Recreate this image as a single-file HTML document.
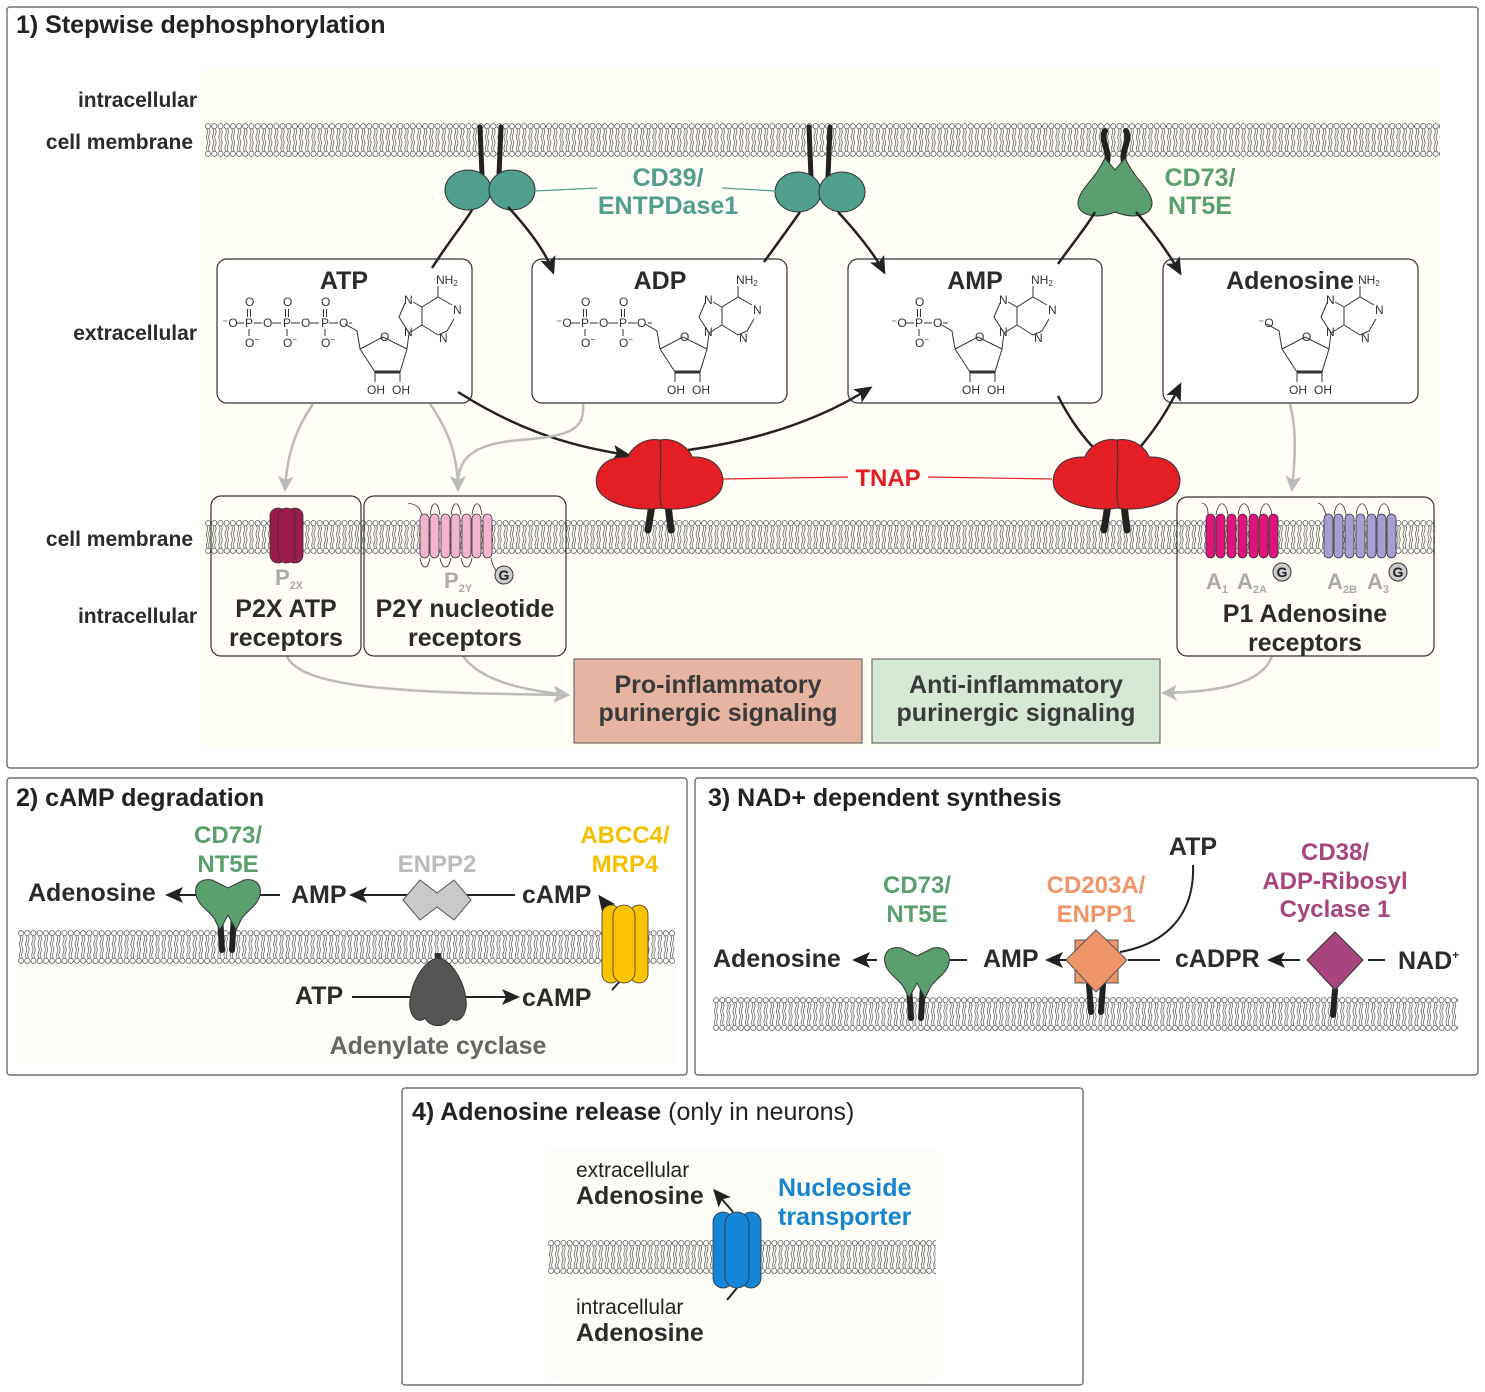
<!DOCTYPE html>
<html><head><meta charset="utf-8"><style>
html,body{margin:0;padding:0;background:#fff}
svg{display:block}
text{font-family:"Liberation Sans",sans-serif}
.b{font-weight:bold}
.t{font-size:25px;font-weight:bold;fill:#2b2b2b}
.s{font-size:12px;fill:#333}
</style></head><body>
<svg width="1485" height="1392" viewBox="0 0 1485 1392" xmlns="http://www.w3.org/2000/svg">
<defs>
<pattern id="mem" patternUnits="userSpaceOnUse" width="6.2" height="34">
<path d="M2,6 q1.3,2.7 0,5.5 q-1.3,2.7 0,5.5 M4.2,6 q1.3,2.7 0,5.5 q-1.3,2.7 0,5.5 M2,17 q1.3,2.7 0,5.5 q-1.3,2.7 0,5.5 M4.2,17 q1.3,2.7 0,5.5 q-1.3,2.7 0,5.5" fill="none" stroke="#333" stroke-width="0.6"/>
<circle cx="3.1" cy="3.2" r="2.6" fill="#fff" stroke="#333" stroke-width="0.6"/>
<circle cx="3.1" cy="30.8" r="2.6" fill="#fff" stroke="#333" stroke-width="0.6"/>
</pattern>
<marker id="ahb" markerWidth="18" markerHeight="16" refX="15" refY="8" orient="auto" markerUnits="userSpaceOnUse" viewBox="0 0 18 16"><path d="M0,0 L18,8 L0,16 L4,8Z" fill="#222"/></marker>
<marker id="ahg" markerWidth="16" markerHeight="16" refX="14" refY="8" orient="auto" markerUnits="userSpaceOnUse" viewBox="0 0 16 16"><path d="M0,0 L16,8 L0,16 L4,8Z" fill="#bbb"/></marker>
<g id="nuc" fill="none" stroke="#333" stroke-width="1">
<path d="M143,90 L166,78 L190,90"/><path d="M143,90 L158,113" /><path d="M190,90 L183,113"/>
<path d="M158,113 L183,113" stroke-width="3"/>
<path d="M158,113 L158,123 M183,113 L183,123 M143,90 L140,72 L128,65"/>
<path d="M190,90 L192,74 M192,74 L182,58 L188,44 M192,74 L205,66 L205,48 L196,43 M205,48 L221,38 L235,46 M237,60 L230,72 L221,76 M221,76 L205,66 M221,38 L221,27"/>
<text x="163" y="82" class="s" stroke="none" fill="#333">O</text>
<text x="150" y="135" class="s" stroke="none" fill="#333">OH</text>
<text x="175" y="135" class="s" stroke="none" fill="#333">OH</text>
<text x="187" y="45" class="s" stroke="none" fill="#333">N</text>
<text x="187" y="77" class="s" stroke="none" fill="#333">N</text>
<text x="236" y="55" class="s" stroke="none" fill="#333">N</text>
<text x="222" y="83" class="s" stroke="none" fill="#333">N</text>
<text x="219" y="25" class="s" stroke="none" fill="#333">NH<tspan font-size="8" dy="2">2</tspan></text>
</g>
<g id="pO">
<text x="-4" y="-17" class="s">O</text><path d="M-1.5,-14 V-6 M1.5,-14 V-6 M0,6 V13" stroke="#333"/>
<text x="-4" y="4" class="s">P</text><text x="-4" y="24" class="s">O<tspan font-size="8" dy="-5">−</tspan></text>
</g>
<g id="capsP"><rect x="0" y="0" width="9" height="44" rx="4.5" stroke="#333" stroke-width="0.8"/></g>
</defs>

<rect x="7" y="7" width="1471" height="761" rx="3" fill="#fff" stroke="#555" stroke-width="1.2"/>
<rect x="200" y="68" width="1240" height="680" fill="#fffdf6"/>
<rect x="7" y="778" width="680" height="297" rx="3" fill="#fff" stroke="#555" stroke-width="1.2"/>
<rect x="18" y="962" width="657" height="100" fill="#fdfcf7"/>
<rect x="695" y="778" width="783" height="297" rx="3" fill="#fff" stroke="#555" stroke-width="1.2"/>
<rect x="402" y="1088" width="681" height="297" rx="3" fill="#fff" stroke="#555" stroke-width="1.2"/>
<rect x="548" y="1150" width="388" height="230" fill="#fdfcf7"/>

<g transform="translate(205,123)"><rect width="1235" height="34" fill="url(#mem)"/></g>
<g transform="translate(205,520)"><rect width="1230" height="34" fill="url(#mem)"/></g>
<g transform="translate(18,930)"><rect width="657" height="34" fill="url(#mem)"/></g>
<g transform="translate(713,997)"><rect width="745" height="34" fill="url(#mem)"/></g>
<g transform="translate(548,1240)"><rect width="388" height="34" fill="url(#mem)"/></g>

<text x="16" y="33" font-size="25" class="b" fill="#222">1) Stepwise dephosphorylation</text>
<g font-size="21" font-weight="bold" fill="#2b2b2b" text-anchor="end">
<text x="197" y="107">intracellular</text>
<text x="193" y="149">cell membrane</text>
<text x="197" y="340">extracellular</text>
<text x="193" y="546">cell membrane</text>
<text x="197" y="623">intracellular</text>
</g>

<g fill="#fff" stroke="#333" stroke-width="1.2">
<rect x="217" y="259" width="255" height="144" rx="10"/>
<rect x="532" y="259" width="255" height="144" rx="10"/>
<rect x="848" y="259" width="254" height="144" rx="10"/>
<rect x="1163" y="259" width="255" height="144" rx="10"/>
</g>
<text x="344" y="289" class="t" text-anchor="middle">ATP</text>
<text x="660" y="289" class="t" text-anchor="middle">ADP</text>
<text x="975" y="289" class="t" text-anchor="middle">AMP</text>
<text x="1290" y="289" class="t" text-anchor="middle">Adenosine</text>
<use href="#nuc" transform="translate(217,259)"/>
<use href="#nuc" transform="translate(517,259)"/>
<use href="#nuc" transform="translate(812,259)"/>
<use href="#nuc" transform="translate(1139,259)"/>
<g fill="#333">
<text x="222" y="327" class="s">⁻O</text><path d="M236,323H244 M254,323H262 M272,323H281 M291,323H300 M310,323H319 M329,323H338 M349,323H352" stroke="#333"/>
<use href="#pO" transform="translate(249,323)"/><text x="263" y="327" class="s">O</text>
<use href="#pO" transform="translate(287,323)"/><text x="301" y="327" class="s">O</text>
<use href="#pO" transform="translate(325,323)"/><text x="339" y="327" class="s">O</text>
<text x="556" y="327" class="s">⁻O</text><path d="M570,323H580 M590,323H598 M608,323H618 M628,323H637 M648,323H652" stroke="#333"/>
<use href="#pO" transform="translate(585,323)"/><text x="599" y="327" class="s">O</text>
<use href="#pO" transform="translate(623,323)"/><text x="637" y="327" class="s">O</text>
<text x="891" y="327" class="s">⁻O</text><path d="M905,323H914 M924,323H932 M943,323H948" stroke="#333"/>
<use href="#pO" transform="translate(919,323)"/><text x="933" y="327" class="s">O</text>
<text x="1258" y="327" class="s">⁻O</text>
</g>

<g stroke="#222" stroke-width="5" stroke-linecap="round">
<path d="M480,127 L482,175 M501,127 L499,175 M809,127 L811,177 M830,127 L828,177"/>
</g>
<g fill="#4f9e8e" stroke="#333" stroke-width="1">
<ellipse cx="468" cy="190" rx="23" ry="20"/><ellipse cx="512" cy="190" rx="23" ry="20"/>
<ellipse cx="798" cy="192" rx="23" ry="20"/><ellipse cx="842" cy="192" rx="23" ry="20"/>
</g>
<path d="M535,191 L597,188 M722,188 L776,191" stroke="#4f9e8e" stroke-width="1.2"/>
<g font-size="25" font-weight="bold" fill="#4f9e8e" text-anchor="middle">
<text x="668" y="186">CD39/</text><text x="668" y="214">ENTPDase1</text>
</g>
<g stroke="#222" stroke-width="6" stroke-linecap="round" fill="none">
<path d="M1105,131 C1100,140 1110,150 1107,162 M1126,131 C1131,140 1121,150 1124,162"/>
</g>
<path d="M1105,158 L1115,170 L1125,158 C1135,180 1150,188 1152,202 C1153,215 1135,220 1115,212 C1095,220 1077,215 1078,202 C1080,188 1095,180 1105,158Z" fill="#5aa06f" stroke="#333"/>
<g font-size="25" font-weight="bold" fill="#5aa06f" text-anchor="middle">
<text x="1200" y="186">CD73/</text><text x="1200" y="214">NT5E</text>
</g>

<g fill="none" stroke="#222" stroke-width="2.5">
<path d="M432,268 C450,240 465,222 472,210"/>
<path d="M508,207 C525,225 545,250 553,272" marker-end="url(#ahb)"/>
<path d="M764,262 C780,240 793,222 800,212"/>
<path d="M838,212 C855,230 875,255 884,272" marker-end="url(#ahb)"/>
<path d="M1058,264 C1075,240 1088,225 1095,212"/>
<path d="M1136,212 C1152,230 1170,255 1180,273" marker-end="url(#ahb)"/>
<path d="M458,392 C510,425 560,445 628,455" marker-end="url(#ahb)"/>
<path d="M688,450 C760,440 820,420 870,388" marker-end="url(#ahb)"/>
<path d="M1058,396 C1070,420 1085,440 1098,452"/>
<path d="M1136,452 C1155,430 1168,410 1180,385" marker-end="url(#ahb)"/>
</g>

<g stroke="#222" stroke-width="7" stroke-linecap="round" fill="none">
<path d="M652,505 L648,530 M668,505 L671,530 M1108,505 L1104,530 M1124,505 L1127,530"/>
</g>
<g stroke="#333" stroke-width="1" fill="#e31e24">
<path d="M660,440 C642,437 630,450 628,457 C600,456 594,475 597,487 C603,505 640,512 660,508 C680,512 717,505 722,487 C726,475 718,456 692,457 C690,450 678,437 660,440Z"/>
<path d="M1117,440 C1099,437 1087,450 1085,457 C1057,456 1051,475 1054,487 C1060,505 1097,512 1117,508 C1137,512 1174,505 1179,487 C1183,475 1175,456 1149,457 C1147,450 1135,437 1117,440Z"/>
</g>
<path d="M660,440 C663,470 657,490 662,508 M1117,440 C1120,470 1114,490 1119,508" stroke="#333" fill="none"/>
<path d="M723,479 L848,477 M928,477 L1052,479" stroke="#e31e24" stroke-width="1.2"/>
<text x="888" y="486" font-size="24" font-weight="bold" fill="#e31e24" text-anchor="middle">TNAP</text>

<g fill="none" stroke="#bbb" stroke-width="2.5">
<path d="M313,404 C295,430 287,455 285,490" marker-end="url(#ahg)"/>
<path d="M430,404 C448,430 458,455 458,490" marker-end="url(#ahg)"/>
<path d="M583,404 C585,430 570,436 520,440 C470,444 460,460 458,480"/>
<path d="M1290,404 C1297,430 1295,460 1292,490" marker-end="url(#ahg)"/>
<path d="M287,656 C300,690 420,693 568,695" marker-end="url(#ahg)"/>
<path d="M463,656 C480,680 520,690 568,695" marker-end="url(#ahg)"/>
<path d="M1272,656 C1262,685 1215,692 1163,693" marker-end="url(#ahg)"/>
</g>

<g fill="none" stroke="#333" stroke-width="1.2">
<rect x="211" y="496" width="150" height="160" rx="10"/>
<rect x="364" y="496" width="202" height="160" rx="10"/>
<rect x="1177" y="497" width="257" height="159" rx="10"/>
</g>
<g fill="#9b1b4e" stroke="#333" stroke-width="0.8">
<rect x="270" y="508" width="16" height="55" rx="8"/><rect x="287" y="508" width="16" height="55" rx="8"/>
<rect x="278" y="508" width="17" height="55" rx="8.5"/>
</g>
<text x="275" y="585" font-size="22" font-weight="bold" fill="#aaa">P<tspan font-size="11" dy="4">2X</tspan></text>
<text x="286" y="617" class="t" text-anchor="middle">P2X ATP</text>
<text x="286" y="646" class="t" text-anchor="middle">receptors</text>
<path d="M408,503 C420,505 420,510 422,515 M430,515 C432,500 438,500 440,515 M451,515 C453,500 459,500 461,515 M472,515 C474,500 480,500 482,515 M420,558 C422,570 428,570 430,558 M440,558 C442,570 449,570 451,558 M461,558 C463,570 470,570 472,558 M491,558 C493,568 496,572 500,572" fill="none" stroke="#333" stroke-width="0.8"/>
<g fill="#f5b3d0"><use href="#capsP" x="420" y="514"/><use href="#capsP" x="430" y="514"/><use href="#capsP" x="441" y="514"/><use href="#capsP" x="451" y="514"/><use href="#capsP" x="462" y="514"/><use href="#capsP" x="472" y="514"/><use href="#capsP" x="483" y="514"/></g>
<circle cx="504" cy="575" r="9" fill="#ccc" stroke="#333"/><text x="504" y="580" font-size="14" font-weight="bold" text-anchor="middle" fill="#222">G</text>
<text x="444" y="588" font-size="22" font-weight="bold" fill="#aaa">P<tspan font-size="11" dy="4">2Y</tspan></text>
<text x="465" y="617" class="t" text-anchor="middle">P2Y nucleotide</text>
<text x="465" y="646" class="t" text-anchor="middle">receptors</text>
<path d="M1202,503 C1208,505 1208,510 1208,515 M1216,515 C1218,500 1226,500 1228,515 M1238,515 C1240,500 1248,500 1250,515 M1260,515 C1262,500 1270,500 1272,515 M1318,503 C1324,505 1324,510 1326,515 M1334,515 C1336,500 1344,500 1346,515 M1356,515 C1358,500 1366,500 1368,515 M1378,515 C1380,500 1388,500 1390,515" fill="none" stroke="#333" stroke-width="0.8"/>
<g fill="#e0137b"><use href="#capsP" x="1206" y="514"/><use href="#capsP" x="1216" y="514"/><use href="#capsP" x="1227" y="514"/><use href="#capsP" x="1238" y="514"/><use href="#capsP" x="1249" y="514"/><use href="#capsP" x="1259" y="514"/><use href="#capsP" x="1269" y="514"/></g>
<g fill="#a59ed0"><use href="#capsP" x="1324" y="514"/><use href="#capsP" x="1334" y="514"/><use href="#capsP" x="1345" y="514"/><use href="#capsP" x="1356" y="514"/><use href="#capsP" x="1367" y="514"/><use href="#capsP" x="1377" y="514"/><use href="#capsP" x="1387" y="514"/></g>
<circle cx="1282" cy="572" r="9" fill="#ccc" stroke="#333"/><text x="1282" y="577" font-size="14" font-weight="bold" text-anchor="middle" fill="#222">G</text>
<circle cx="1398" cy="572" r="9" fill="#ccc" stroke="#333"/><text x="1398" y="577" font-size="14" font-weight="bold" text-anchor="middle" fill="#222">G</text>
<g font-size="22" font-weight="bold" fill="#aaa">
<text x="1206" y="589">A<tspan font-size="11" dy="4">1</tspan></text>
<text x="1237" y="589">A<tspan font-size="11" dy="4">2A</tspan></text>
<text x="1327" y="589">A<tspan font-size="11" dy="4">2B</tspan></text>
<text x="1367" y="589">A<tspan font-size="11" dy="4">3</tspan></text>
</g>
<text x="1305" y="622" class="t" text-anchor="middle">P1 Adenosine</text>
<text x="1305" y="651" class="t" text-anchor="middle">receptors</text>

<rect x="574" y="659" width="288" height="84" fill="#e6b4a0" stroke="#555" stroke-width="1"/>
<rect x="872" y="659" width="288" height="84" fill="#d6e9d5" stroke="#555" stroke-width="1"/>
<g font-size="25" font-weight="bold" fill="#3a3a3a" text-anchor="middle">
<text x="718" y="693">Pro-inflammatory</text><text x="718" y="721">purinergic signaling</text>
<text x="1016" y="693">Anti-inflammatory</text><text x="1016" y="721">purinergic signaling</text>
</g>

<text x="16" y="806" font-size="25" class="b" fill="#222">2) cAMP degradation</text>
<g font-size="24" font-weight="bold" text-anchor="middle">
<text x="228" y="843" fill="#5aa06f">CD73/</text><text x="228" y="872" fill="#5aa06f">NT5E</text>
<text x="437" y="872" fill="#bbb">ENPP2</text>
<text x="625" y="843" fill="#f5c000">ABCC4/</text><text x="625" y="872" fill="#f5c000">MRP4</text>
</g>
<text x="28" y="901" class="t">Adenosine</text><text x="291" y="903" class="t">AMP</text><text x="522" y="903" class="t">cAMP</text>
<text x="295" y="1004" class="t">ATP</text><text x="522" y="1006" class="t">cAMP</text>
<g stroke="#222" stroke-width="2" fill="none">
<path d="M280,895 L168,895" marker-end="url(#ahb)"/>
<path d="M515,895 L352,895" marker-end="url(#ahb)"/>
<path d="M352,997 L517,997" marker-end="url(#ahb)"/>
<path d="M612,990 L630,970"/>
<path d="M617,920 L600,897" marker-end="url(#ahb)"/>
</g>
<g stroke="#222" stroke-width="6" stroke-linecap="round"><path d="M220,915 L222,950 M234,915 L232,950"/></g>
<path d="M212,880 L228,888 L244,880 C256,878 262,885 260,895 C258,905 248,910 242,918 L236,930 L228,915 L220,930 L214,918 C208,910 198,905 196,895 C194,885 200,878 212,880Z" fill="#5aa06f" stroke="#333"/>
<path d="M403,900 L420,880 L437,893 L454,880 L471,900 L454,920 L437,907 L420,920Z" fill="#c8c9c8" stroke="#555"/>
<rect x="435" y="953" width="6" height="10" fill="#333"/>
<path d="M438,958 C425,960 412,980 410,1000 C408,1015 418,1025 425,1018 C430,1028 446,1028 451,1018 C458,1025 468,1015 466,1000 C464,980 451,960 438,958Z" fill="#555" stroke="#333"/>
<g fill="#fcc400" stroke="#333" stroke-width="0.8">
<rect x="602" y="905" width="18" height="78" rx="9"/><rect x="630" y="905" width="18" height="78" rx="9"/><rect x="613" y="905" width="22" height="78" rx="11"/>
</g>
<text x="438" y="1054" font-size="25" font-weight="bold" fill="#666" text-anchor="middle">Adenylate cyclase</text>

<text x="708" y="806" font-size="25" class="b" fill="#222">3) NAD+ dependent synthesis</text>
<g font-size="24" font-weight="bold" text-anchor="middle">
<text x="917" y="893" fill="#5aa06f">CD73/</text><text x="917" y="922" fill="#5aa06f">NT5E</text>
<text x="1096" y="893" fill="#f0956a">CD203A/</text><text x="1096" y="922" fill="#f0956a">ENPP1</text>
<text x="1335" y="860" fill="#a8457f">CD38/</text><text x="1335" y="889" fill="#a8457f">ADP-Ribosyl</text><text x="1335" y="917" fill="#a8457f">Cyclase 1</text>
</g>
<text x="1193" y="855" class="t" text-anchor="middle">ATP</text>
<text x="713" y="967" class="t">Adenosine</text><text x="983" y="967" class="t">AMP</text><text x="1175" y="967" class="t">cADPR</text>
<text x="1398" y="969" class="t">NAD<tspan font-size="12" dy="-10">+</tspan></text>
<g stroke="#222" stroke-width="2" fill="none">
<path d="M877,960 L855,960" marker-end="url(#ahb)"/>
<path d="M950,960 L967,960"/>
<path d="M1068,960 L1048,960" marker-end="url(#ahb)"/>
<path d="M1128,960 L1160,960"/>
<path d="M1300,960 L1270,960" marker-end="url(#ahb)"/>
<path d="M1368,960 L1385,960"/>
<path d="M1193,865 C1195,920 1160,945 1120,952"/>
</g>
<g stroke="#222" stroke-width="6" stroke-linecap="round"><path d="M909,985 L911,1018 M923,985 L921,1018 M1089,985 L1091,1012 M1103,985 L1101,1012 M1335,990 L1333,1015"/></g>
<path d="M901,948 L917,956 L933,948 C945,946 951,953 949,963 C947,973 937,978 931,986 L925,998 L917,983 L909,998 L903,986 C897,978 887,973 885,963 C883,953 889,946 901,948Z" fill="#5aa06f" stroke="#333"/>
<rect x="1075" y="940" width="43" height="43" fill="#f0956a" stroke="#555"/>
<path d="M1096,930 L1127,960 L1096,992 L1066,960Z" fill="#f0956a" stroke="#555"/>
<path d="M1335,932 L1363,960 L1335,990 L1307,960Z" fill="#a8457f" stroke="#333" stroke-linejoin="round"/>

<text x="412" y="1120" font-size="25" fill="#222"><tspan font-weight="bold">4) Adenosine release</tspan> (only in neurons)</text>
<text x="576" y="1177" font-size="21" fill="#222">extracellular</text>
<text x="576" y="1204" class="t">Adenosine</text>
<text x="576" y="1314" font-size="21" fill="#222">intracellular</text>
<text x="576" y="1341" class="t">Adenosine</text>
<g font-size="25" font-weight="bold" fill="#1585d0"><text x="778" y="1196">Nucleoside</text><text x="778" y="1225">transporter</text></g>
<path d="M727,1300 L737,1288" stroke="#222" stroke-width="2" fill="none"/>
<path d="M733,1212 L715,1191" stroke="#222" stroke-width="2" marker-end="url(#ahb)"/>
<g fill="#1585d8" stroke="#333" stroke-width="0.8">
<rect x="713" y="1212" width="20" height="76" rx="10"/><rect x="741" y="1212" width="20" height="76" rx="10"/><rect x="725" y="1212" width="24" height="76" rx="12"/>
</g>
</svg>
</body></html>
